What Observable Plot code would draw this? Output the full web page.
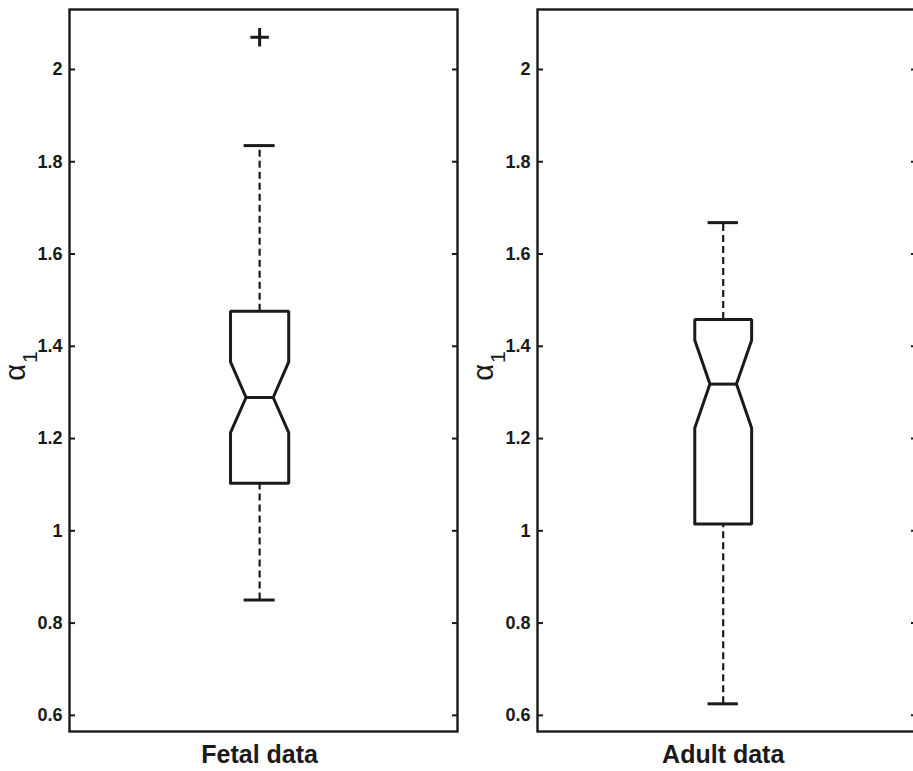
<!DOCTYPE html>
<html>
<head>
<meta charset="utf-8">
<script src="https://cdn.jsdelivr.net/npm/d3@7"></script>
<script src="https://cdn.jsdelivr.net/npm/@observablehq/plot@0.6"></script>
<style>
  html, body { margin: 0; padding: 0; background: #fff; overflow: hidden; }
  #wrap { position: relative; width: 913px; height: 771px; overflow: hidden; }
  .panel { position: absolute; top: 0; width: 460px; height: 771px; }
  .panel svg { max-width: none !important; }
</style>
</head>
<body>
<div id="wrap"></div>
<script>
// ---- data ----
const groups = ["Fetal data", "Adult data"];
const whiskerLow  = [0.85, 0.625];
const q1          = [1.103, 1.015];
const notchLow    = [1.213, 1.223];
const median      = [1.289, 1.318];
const notchHigh   = [1.366, 1.413];
const q3          = [1.476, 1.458];
const whiskerHigh = [1.835, 1.668];
const outliers    = [[2.07], []];
const yTicks      = [0.6, 0.8, 1, 1.2, 1.4, 1.6, 1.8, 2];
const yDomain     = [0.565, 2.13];
const yLabelMain  = "α";
const yLabelSub   = "1";

// ---- styling / geometry ----
const ink = "#1a1a1a";
const boxHalf = 0.075, notchHalf = 0.035, capHalf = 0.04, center = 0.49;
const panels = [
  {left: 0,   width: 460, marginLeft: 69, marginRight: 3},
  {left: 460, width: 460, marginLeft: 77, marginRight: 4}
];

const wrap = document.getElementById("wrap");

groups.forEach((g, i) => {
  const c = center;
  const poly = [
    [c - boxHalf, q1[i]], [c - boxHalf, notchLow[i]], [c - notchHalf, median[i]],
    [c - boxHalf, notchHigh[i]], [c - boxHalf, q3[i]], [c + boxHalf, q3[i]],
    [c + boxHalf, notchHigh[i]], [c + notchHalf, median[i]], [c + boxHalf, notchLow[i]],
    [c + boxHalf, q1[i]], [c - boxHalf, q1[i]]
  ].map(([x, y]) => ({x, y}));

  const whiskers = [
    {y1: q3[i], y2: whiskerHigh[i]},
    {y1: whiskerLow[i], y2: q1[i]}
  ];
  const caps = [whiskerHigh[i], whiskerLow[i]];
  const outs = outliers[i].map(v => ({x: c, y: v}));

  const p = panels[i];
  const chart = Plot.plot({
    width: p.width,
    height: 771,
    marginLeft: p.marginLeft,
    marginRight: p.marginRight,
    marginTop: 9,
    marginBottom: 40,
    style: {fontFamily: "'Liberation Sans', Arial, sans-serif", color: ink, background: "transparent", overflow: "visible"},
    x: {domain: [0, 1], axis: null},
    y: {domain: yDomain, axis: null},
    marks: [
      Plot.axisY(yTicks, {anchor: "left", tickSize: -6, tickPadding: 13, fontSize: 18, fontWeight: "bold", strokeWidth: 2, stroke: ink, label: null, tickFormat: d => String(d)}),
      Plot.axisY(yTicks, {anchor: "right", tickSize: -6, strokeWidth: 2, stroke: ink, label: null, tickFormat: () => ""}),
      Plot.ruleX(whiskers, {x: c, y1: "y1", y2: "y2", stroke: ink, strokeWidth: 2.2, strokeDasharray: "7,4"}),
      Plot.ruleY(caps, {y: d => d, x1: c - capHalf, x2: c + capHalf, stroke: ink, strokeWidth: 3}),
      Plot.line(poly, {x: "x", y: "y", stroke: ink, strokeWidth: 3, strokeLinejoin: "miter"}),
      Plot.ruleY([median[i]], {y: d => d, x1: c - notchHalf, x2: c + notchHalf, stroke: ink, strokeWidth: 3}),
      Plot.dot(outs, {x: "x", y: "y", symbol: "plus", r: 6, stroke: ink, strokeWidth: 3}),
      Plot.frame({stroke: ink, strokeWidth: 2.4}),
      Plot.text([g], {x: c, frameAnchor: "bottom", dy: 23, lineAnchor: "middle", fontSize: 25, fontWeight: "bold", fill: ink})
    ]
  });

  // rotated y-axis label with a real subscript
  const lbl = d3.select(chart).append("text")
    .attr("transform", `translate(${p.marginLeft - 44},366) rotate(-90)`)
    .attr("text-anchor", "middle")
    .attr("fill", ink)
    .style("font-family", "'Liberation Sans', Arial, sans-serif");
  lbl.append("tspan").attr("font-size", 29).text(yLabelMain);
  lbl.append("tspan").attr("font-size", 21).attr("dy", 12).attr("dx", 1).text(yLabelSub);

  const div = document.createElement("div");
  div.className = "panel";
  div.style.left = p.left + "px";
  div.appendChild(chart);
  wrap.appendChild(div);
});
</script>
</body>
</html>
